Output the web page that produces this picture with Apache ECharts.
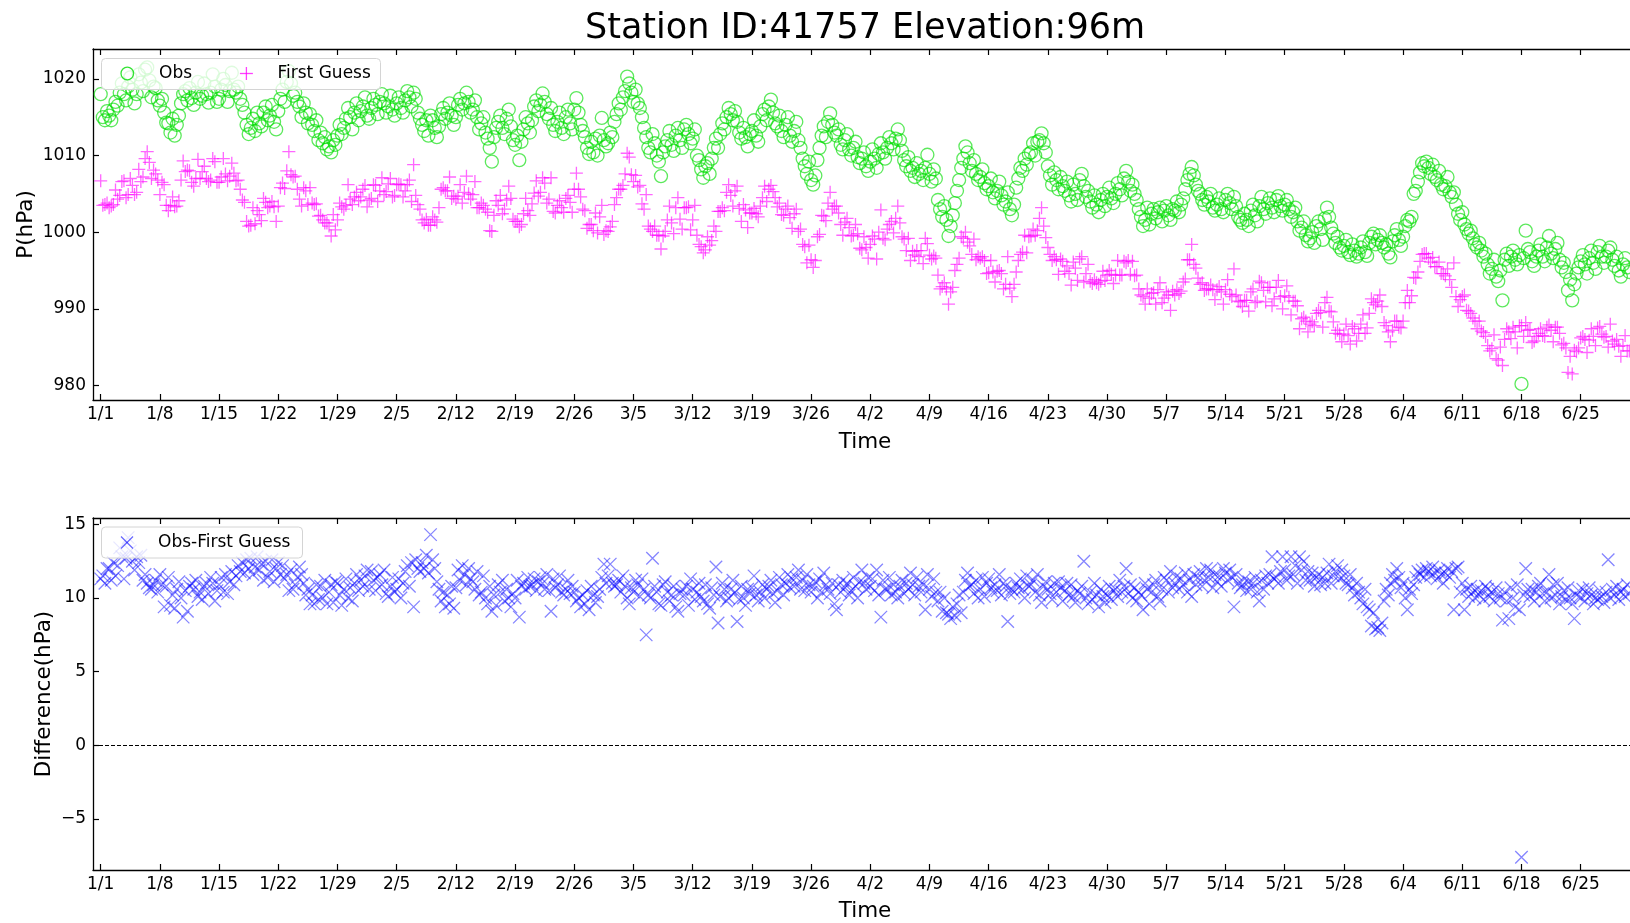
<!DOCTYPE html>
<html>
<head>
<meta charset="utf-8">
<title>Station 41757 surface pressure</title>
<script src="https://cdn.jsdelivr.net/npm/echarts@6/dist/echarts.min.js"></script>
<style>
  html, body { margin: 0; padding: 0; background: #fff; }
  #chart { width: 1630px; height: 923px; }
</style>
</head>
<body>
<div id="chart"></div>
<script>
// Station surface pressure: observations vs. model first guess, 6-hourly from 1/1.
const titleText = 'Station ID:41757 Elevation:96m';
const dateTicks = ['1/1','1/8','1/15','1/22','1/29','2/5','2/12','2/19','2/26','3/5','3/12','3/19','3/26',
  '4/2','4/9','4/16','4/23','4/30','5/7','5/14','5/21','5/28','6/4','6/11','6/18','6/25'];
const pressureTicks = [980, 990, 1000, 1010, 1020];
const diffTicks = [-5, 0, 5, 10, 15];
const stepHours = 6;

// Observed station pressure (hPa), four reports per day.
const obs = [
1018.0,1015.0,1014.6,1015.8, 1015.2,1014.6,1016.0,1017.0, 1016.5,1018.2,1019.4,1018.0, 1017.2,1019.0,1020.2,1018.6,
1016.8,1018.0,1020.6,1019.5, 1018.4,1021.2,1021.5,1019.8, 1017.6,1019.0,1018.8,1017.2, 1016.5,1017.4,1015.6,1014.3,
1014.2,1013.0,1014.8,1012.6, 1014.0,1015.2,1016.8,1018.0, 1018.4,1017.2,1018.8,1017.5, 1016.6,1018.2,1019.6,1017.4,
1017.8,1019.4,1018.0,1016.9, 1018.2,1020.6,1019.0,1017.0, 1017.4,1018.6,1020.0,1019.2, 1017.0,1018.4,1020.8,1018.6,
1018.2,1019.0,1017.4,1016.6, 1015.6,1014.0,1012.8,1013.6, 1014.8,1013.2,1015.6,1014.2, 1013.8,1015.6,1016.4,1014.6,
1015.2,1016.6,1014.4,1013.4, 1015.8,1017.4,1018.6,1017.0, 1019.6,1021.0,1019.4,1017.8, 1018.2,1017.0,1016.4,1015.0,
1016.8,1015.6,1014.2,1015.4, 1014.0,1013.2,1014.6,1012.0, 1013.0,1011.6,1012.4,1010.8, 1011.2,1010.4,1012.0,1011.4,
1012.6,1014.0,1012.8,1013.6, 1014.8,1016.2,1015.0,1013.4, 1015.6,1016.8,1014.6,1015.8, 1016.4,1017.6,1015.2,1014.8,
1016.2,1017.4,1016.6,1015.4, 1017.0,1018.0,1016.8,1015.6, 1016.4,1017.8,1016.0,1015.2, 1016.8,1017.6,1016.2,1015.6,
1017.2,1018.4,1017.6,1016.4, 1018.2,1017.4,1015.6,1014.8, 1014.0,1013.2,1014.6,1012.6, 1015.2,1014.6,1013.6,1012.4,
1013.8,1015.4,1016.2,1014.8, 1015.6,1016.8,1015.2,1014.0, 1015.0,1016.6,1017.4,1016.0, 1016.8,1018.2,1017.0,1015.6,
1016.0,1017.2,1015.0,1013.4, 1014.2,1015.0,1013.0,1012.2, 1011.0,1009.2,1012.4,1013.6, 1014.4,1015.2,1013.6,1012.8,
1014.8,1016.0,1013.8,1012.0, 1011.4,1012.6,1009.4,1011.8, 1013.4,1015.0,1014.2,1013.0, 1014.6,1016.4,1017.2,1015.8,
1016.6,1018.1,1017.0,1015.4, 1014.8,1016.2,1014.0,1013.2, 1014.4,1015.6,1013.6,1012.8, 1015.0,1016.0,1014.2,1013.4,
1016.0,1017.5,1015.6,1014.0, 1013.2,1012.4,1011.0,1010.2, 1011.8,1010.4,1012.2,1010.0, 1012.6,1014.9,1012.0,1011.2,
1011.6,1013.0,1012.4,1014.4, 1015.4,1016.8,1016.0,1017.6, 1018.4,1020.3,1019.4,1018.2, 1017.0,1018.6,1016.8,1016.2,
1015.0,1013.6,1012.4,1011.0, 1010.4,1012.8,1011.6,1010.0, 1009.2,1007.3,1010.4,1011.2, 1012.0,1013.2,1011.4,1010.6,
1012.6,1013.6,1012.0,1011.0, 1013.4,1014.0,1012.8,1011.6, 1012.2,1013.4,1010.0,1009.4, 1008.2,1007.1,1008.6,1009.0,
1007.6,1009.6,1011.0,1012.2, 1011.0,1012.8,1014.2,1013.4, 1015.0,1016.2,1015.4,1014.6, 1015.8,1014.4,1013.0,1012.2,
1013.6,1012.4,1011.2,1012.8, 1013.2,1014.6,1012.6,1011.8, 1013.8,1015.4,1016.0,1014.6, 1016.4,1017.3,1015.6,1014.2,
1013.8,1015.2,1013.2,1012.4, 1014.0,1015.0,1012.6,1011.8, 1013.2,1014.4,1012.0,1011.0, 1009.6,1008.6,1007.6,1009.2,
1006.8,1006.2,1007.4,1009.4, 1011.0,1012.6,1013.8,1012.4, 1014.4,1015.5,1014.0,1013.0, 1012.6,1013.4,1011.4,1010.8,
1012.0,1012.8,1010.8,1010.0, 1011.0,1011.8,1009.8,1009.0, 1009.6,1010.4,1008.6,1008.0, 1009.2,1010.8,1009.6,1008.4,
1010.2,1011.6,1010.4,1009.6, 1011.0,1012.4,1011.6,1010.8, 1012.2,1013.4,1012.0,1010.6, 1009.4,1008.6,1009.8,1008.0,
1008.4,1007.2,1009.0,1007.6, 1008.0,1006.8,1008.4,1010.1, 1007.6,1006.6,1008.2,1007.0, 1004.2,1003.0,1002.0,1003.4,
1001.6,999.5,1000.8,1002.2, 1003.8,1005.4,1006.8,1008.4, 1009.6,1011.2,1010.4,1009.0, 1008.0,1009.4,1007.6,1006.8,
1007.2,1008.2,1006.4,1005.6, 1006.0,1007.0,1005.2,1004.4, 1005.4,1006.6,1004.8,1003.6, 1004.0,1005.2,1003.0,1002.2,
1003.6,1005.8,1007.0,1008.4, 1008.0,1009.6,1008.8,1010.2, 1010.4,1011.6,1010.0,1011.8, 1012.0,1012.9,1011.6,1010.4,
1008.6,1007.4,1006.2,1007.8, 1006.8,1005.6,1007.2,1006.0, 1005.4,1006.6,1004.8,1004.0, 1006.2,1005.0,1004.2,1006.8,
1007.6,1006.0,1004.6,1005.4, 1004.0,1003.2,1004.8,1003.6, 1002.6,1004.2,1005.0,1003.4, 1004.6,1005.8,1004.4,1003.8,
1005.0,1006.4,1005.6,1004.8, 1007.0,1008.0,1006.6,1005.4, 1006.2,1005.0,1004.2,1003.0, 1002.0,1000.8,1001.6,1003.2,
1001.0,1002.4,1003.0,1001.8, 1002.6,1003.2,1001.4,1002.8, 1003.4,1002.2,1001.6,1003.0, 1002.8,1004.0,1002.6,1003.6,
1004.4,1005.6,1006.8,1007.6, 1008.5,1007.4,1006.2,1005.4, 1005.0,1004.2,1003.6,1004.6, 1004.0,1005.0,1003.2,1002.8,
1003.6,1004.4,1003.0,1002.6, 1004.2,1005.0,1003.8,1003.0, 1004.6,1003.4,1002.0,1001.6, 1001.2,1002.4,1001.6,1000.8,
1002.8,1003.6,1002.2,1001.4, 1003.4,1004.6,1003.0,1002.4, 1003.8,1004.4,1003.2,1002.6, 1004.2,1004.7,1003.4,1002.8,
1003.6,1004.2,1003.0,1002.0, 1002.6,1003.2,1001.4,1000.2, 1000.6,1001.4,999.6,998.8, 999.2,1000.0,998.6,1000.8,
1001.4,1000.4,999.0,1001.8, 1003.2,1002.0,1000.6,999.8, 998.6,999.4,998.0,997.6, 998.2,999.0,997.4,997.0,
998.4,997.6,996.8,997.2, 998.0,998.8,997.4,996.9, 998.6,999.4,999.8,998.4, 999.0,999.6,998.6,998.0,
998.4,997.2,996.7,998.8, 999.6,1000.4,999.0,998.2, 999.4,1000.8,1001.6,1001.4, 1002.0,1005.0,1005.4,1006.6,
1007.8,1009.0,1008.6,1009.2, 1008.4,1007.6,1008.8,1007.2, 1006.8,1008.0,1006.2,1005.6, 1006.0,1007.2,1005.2,1004.6,
1005.2,1003.6,1002.4,1001.6, 1002.6,1001.0,1000.4,999.8, 1000.2,999.2,998.4,998.0, 998.6,997.6,996.8,997.2,
995.8,994.6,995.2,996.4, 994.2,993.6,995.0,991.1, 996.4,997.2,995.6,996.8, 997.6,996.4,995.8,997.0,
980.2,996.6,1000.2,997.8, 997.4,996.2,995.6,996.8, 997.6,998.4,996.8,996.2, 998.0,999.5,997.2,996.6,
997.8,998.6,996.4,995.4, 996.0,994.8,992.4,993.8, 991.1,993.2,994.6,995.4, 996.2,997.0,995.8,994.6,
996.6,997.6,996.0,995.2, 997.4,998.2,996.8,996.0, 996.8,997.6,998.0,996.4, 995.6,996.8,995.0,994.2,
995.8,996.6,995.4,994.8
];

// Model first-guess pressure (hPa) at the same report times.
const firstGuess = [
1006.7,1003.5,1003.6,1003.8, 1003.2,1003.4,1003.6,1005.5, 1004.3,1004.8,1006.6,1006.7, 1004.5,1004.9,1007.0,1006.1,
1004.9,1005.2,1008.2,1006.6, 1007.2,1009.6,1010.5,1009.1, 1007.0,1008.1,1007.6,1006.8, 1004.9,1006.5,1006.2,1003.5,
1002.8,1003.5,1004.6,1003.3, 1003.4,1004.1,1006.8,1009.3, 1007.9,1008.1,1008.0,1006.5, 1006.0,1007.0,1009.5,1007.0,
1007.9,1008.6,1007.0,1006.6, 1006.8,1009.6,1009.2,1006.5, 1006.5,1007.2,1009.6,1007.6, 1006.7,1007.3,1009.0,1007.7,
1006.7,1006.8,1005.6,1004.2, 1003.9,1001.4,1000.8,1000.9, 1003.2,1001.1,1002.8,1002.3, 1001.5,1004.4,1003.9,1003.2,
1003.4,1004.0,1003.3,1001.4, 1003.4,1005.8,1006.4,1005.7, 1008.0,1010.5,1007.5,1007.2, 1007.3,1005.6,1004.3,1003.4,
1005.8,1005.4,1003.6,1005.8, 1003.8,1003.6,1003.7,1002.1, 1002.2,1001.6,1001.2,1001.2, 1000.8,999.5,1002.3,1000.3,
1001.6,1003.8,1003.3,1003.0, 1003.5,1006.2,1004.3,1003.6, 1004.6,1005.2,1004.1,1004.6, 1005.6,1006.1,1003.3,1004.2,
1004.4,1006.2,1006.1,1004.0, 1005.4,1007.1,1004.9,1005.3, 1006.3,1007.0,1004.6,1004.8, 1006.2,1006.3,1006.2,1004.6,
1005.4,1006.2,1006.8,1004.0, 1008.8,1004.8,1003.6,1003.0, 1001.6,1001.2,1001.7,1000.9, 1000.9,1002.0,1001.6,1001.3,
1003.2,1005.6,1005.8,1005.4, 1005.4,1007.2,1004.4,1004.7, 1004.3,1004.7,1006.2,1003.8, 1005.2,1007.3,1005.0,1004.3,
1004.9,1006.6,1003.2,1003.2, 1003.8,1003.5,1003.0,1002.6, 1000.2,1000.1,1002.2,1004.1, 1003.5,1004.8,1002.4,1003.0,
1004.2,1006.0,1004.4,1001.7, 1001.4,1001.4,1000.7,1001.0, 1002.4,1004.4,1002.8,1002.2, 1003.7,1005.1,1006.7,1004.7,
1005.2,1007.1,1006.4,1003.8, 1004.3,1007.1,1002.7,1002.5, 1003.5,1004.1,1003.2,1002.6, 1004.4,1004.8,1003.9,1002.6,
1005.6,1007.7,1005.6,1004.6, 1003.0,1002.8,1000.5,1001.0, 1001.0,1000.2,1002.5,999.9, 1002.0,1003.5,999.7,1000.2,
1000.1,1000.7,1001.4,1003.6, 1004.5,1005.6,1005.6,1006.1, 1007.6,1010.3,1009.8,1007.5, 1006.6,1007.4,1005.9,1006.1,
1003.7,1003.0,1004.9,1000.8, 1000.4,1000.1,1000.8,999.6, 999.6,997.8,999.5,1000.1, 1001.6,1003.4,1001.2,999.8,
1003.2,1004.5,1001.7,1000.4, 1003.2,1003.2,1003.3,1000.3, 1001.6,1003.5,999.6,998.4, 998.1,997.3,997.7,999.4,
998.3,998.9,1000.8,1000.1, 1002.7,1002.7,1003.2,1002.8, 1005.2,1006.2,1004.8,1003.4, 1005.4,1006.0,1003.1,1001.4,
1003.6,1002.9,1000.6,1002.5, 1002.5,1003.1,1002.4,1002.0, 1003.4,1004.5,1006.0,1004.0, 1005.6,1006.1,1005.3,1004.5,
1003.3,1003.8,1002.3,1002.2, 1003.0,1003.4,1001.9,1000.5, 1002.4,1003.0,1000.1,1000.4, 998.4,998.1,996.0,998.3,
996.4,995.4,996.3,999.4, 999.7,1002.2,1002.1,1001.5, 1003.8,1005.2,1003.0,1003.4, 1003.4,1002.5,1001.0,999.6,
1001.3,1001.8,1000.6,999.5, 999.6,1001.0,999.8,997.9, 997.7,999.4,998.0,996.6, 998.4,999.5,999.1,996.5,
1000.0,1002.9,999.2,999.0, 1000.4,1001.0,1001.4,999.9, 1001.8,1003.4,1001.2,999.4, 999.1,997.6,999.2,996.3,
997.5,997.0,997.6,996.8, 997.6,995.9,999.2,998.5, 997.0,996.5,996.9,996.6, 994.4,992.6,992.9,993.4,
992.6,990.6,992.2,992.8, 995.0,995.8,996.6,999.4, 999.2,1000.0,998.7,998.2, 997.1,999.1,996.4,996.8,
996.6,996.8,996.3,994.6, 994.7,996.3,994.8,993.5, 994.9,995.0,994.6,992.6, 993.2,996.8,992.7,991.6,
993.2,994.8,996.3,997.1, 997.4,999.6,997.3,999.4, 999.5,1000.4,999.6,1000.2, 1001.8,1003.2,1000.8,999.3,
998.0,997.1,996.3,996.8, 996.4,994.5,996.5,996.2, 994.9,995.6,994.6,993.1, 996.1,995.3,993.7,996.5,
996.8,993.5,994.6,995.8, 993.6,993.3,993.8,993.4, 993.2,993.6,994.9,993.7, 994.4,995.0,994.5,993.3,
994.4,996.3,994.4,994.4, 996.2,996.0,996.3,994.5, 996.2,994.3,994.4,992.6, 991.8,991.6,990.6,992.6,
991.4,992.0,992.1,990.6, 992.5,993.4,990.8,991.4, 992.2,991.8,989.8,992.3, 991.8,992.5,992.0,992.3,
993.5,993.9,996.4,996.4, 998.4,995.8,995.3,994.0, 993.2,993.4,992.4,992.6, 992.6,993.1,992.5,991.2,
992.5,992.9,992.2,990.6, 992.5,993.8,991.9,991.6, 995.2,991.8,991.0,990.9, 990.3,991.1,991.1,989.7,
992.2,992.6,990.8,991.0, 993.6,993.4,992.4,990.9, 992.8,992.8,990.4,991.3, 992.8,993.7,991.6,990.0,
991.7,993.0,991.5,989.2, 991.0,991.0,990.4,987.4, 988.7,988.9,988.4,987.0, 988.0,988.3,987.8,989.4,
989.8,989.5,987.6,990.8, 991.5,989.7,989.6,988.3, 986.8,987.2,986.7,985.7, 986.7,988.0,986.5,985.4,
987.7,987.4,985.8,986.8, 988.0,989.2,986.8,987.5, 989.4,991.3,990.8,990.5, 991.0,991.8,990.3,988.2,
987.8,987.0,985.7,987.2, 988.4,988.4,987.6,987.5, 988.4,990.8,992.4,990.8, 991.7,994.1,994.0,994.8,
996.2,997.1,997.2,997.2, 996.6,996.1,996.7,995.5, 995.5,996.1,994.6,994.6, 994.3,995.2,993.8,992.8,
996.0,991.6,990.3,991.2, 991.6,991.8,989.8,989.7, 989.4,988.8,988.4,987.4, 988.4,987.1,986.9,986.4,
985.2,984.5,984.8,986.6, 983.5,983.3,985.0,982.6, 986.0,987.4,987.0,986.1, 987.6,987.0,984.9,987.8,
987.8,986.4,988.2,987.2, 987.3,985.6,985.8,986.4, 986.8,987.4,986.5,986.4, 987.6,987.9,987.2,985.7,
987.6,987.6,986.8,985.3, 985.5,984.9,981.7,983.8, 981.5,984.6,984.4,984.9, 986.2,986.4,986.0,984.3,
985.9,987.4,986.4,985.2, 987.5,987.7,986.7,986.3, 986.4,985.0,988.0,985.8, 985.4,986.0,985.1,983.8,
985.2,986.5,984.5,984.5
];

// Report time in days since 1/1 00:00.
const dayOf = i => i * stepHours / 24;
const obsData = obs.map((v, i) => [dayOf(i), v]);
const fgData = firstGuess.map((v, i) => [dayOf(i), v]);
const diffData = obs.map((v, i) => [dayOf(i), Math.round((v - firstGuess[i]) * 100) / 100]);

const FONT = 'DejaVu Sans';
const X_MIN = -0.91, X_MAX = 181.54;
const tickDays = dateTicks.map((_, k) => k * 7);
const PLUS = 'path://M0,-1L0,1M-1,0L1,0';
const CROSS = 'path://M-1,-1L1,1M-1,1L1,-1';

const spine = { show: true, onZero: false, lineStyle: { color: '#000', width: 1.3 } };
const tickStyle = { color: '#000', width: 1.2 };

function xAxes(gridIndex) {
  return [
    {
      type: 'value', gridIndex, position: 'bottom', min: X_MIN, max: X_MAX,
      axisLine: spine,
      axisTick: { show: true, inside: true, length: 6, customValues: tickDays, lineStyle: tickStyle },
      axisLabel: { show: true, customValues: tickDays, margin: 6, color: '#000', fontSize: 17, fontFamily: FONT,
        formatter: v => dateTicks[Math.round(v / 7)] },
      splitLine: { show: false }
    },
    {
      type: 'value', gridIndex, position: 'top', min: X_MIN, max: X_MAX,
      axisLine: spine,
      axisTick: { show: true, inside: true, length: 6, customValues: tickDays, lineStyle: tickStyle },
      axisLabel: { show: false },
      splitLine: { show: false }
    }
  ];
}

function yAxes(gridIndex, min, max, ticks, fmt) {
  return [
    {
      type: 'value', gridIndex, position: 'left', min, max,
      axisLine: spine,
      axisTick: { show: true, inside: true, length: 6, customValues: ticks, lineStyle: tickStyle },
      axisLabel: { show: true, customValues: ticks, margin: 7, color: '#000', fontSize: 17, fontFamily: FONT, formatter: fmt },
      splitLine: { show: false }
    },
    {
      type: 'value', gridIndex, position: 'right', min, max,
      axisLine: spine,
      axisTick: { show: true, inside: true, length: 6, customValues: ticks, lineStyle: tickStyle },
      axisLabel: { show: false },
      splitLine: { show: false }
    }
  ];
}

const minusFmt = v => (v < 0 ? '\u2212' + Math.abs(v) : String(v));

function legendText(x, y, text) {
  return { type: 'text', x, y, z: 101, silent: true,
    style: { text, fill: '#000', font: '17px "' + FONT + '"', textAlign: 'left', textVerticalAlign: 'middle' } };
}
function seg(x1, y1, x2, y2, stroke) {
  return { type: 'line', z: 101, silent: true, shape: { x1, y1, x2, y2 }, style: { stroke, lineWidth: 1.3 } };
}

const OBS_COLOR = 'rgba(0,220,0,0.8)';
const FG_COLOR = 'rgba(255,0,255,0.75)';
const DIFF_COLOR = 'rgba(0,0,255,0.6)';

const option = {
  animation: false,
  backgroundColor: '#fff',
  grid: [
    { left: 93, top: 49, width: 1543, height: 351, outerBoundsMode: 'none', containLabel: false },
    { left: 93, top: 518, width: 1543, height: 352, outerBoundsMode: 'none', containLabel: false }
  ],
  xAxis: [...xAxes(0), ...xAxes(1)],
  yAxis: [
    ...yAxes(0, 978.1, 1023.9, pressureTicks, v => String(v)),
    ...yAxes(1, -8.46, 15.43, diffTicks, minusFmt)
  ],
  series: [
    {
      name: 'Obs', type: 'scatter', xAxisIndex: 0, yAxisIndex: 0, data: obsData, silent: true,
      symbol: 'circle', symbolSize: 13,
      itemStyle: { color: 'rgba(0,0,0,0)', borderColor: OBS_COLOR, borderWidth: 1.3 }
    },
    {
      name: 'First Guess', type: 'scatter', xAxisIndex: 0, yAxisIndex: 0, data: fgData, silent: true,
      symbol: PLUS, symbolSize: 13,
      itemStyle: { color: 'none', borderColor: FG_COLOR, borderWidth: 1.3 }
    },
    {
      name: 'Obs-First Guess', type: 'scatter', xAxisIndex: 2, yAxisIndex: 2, data: diffData, silent: true,
      symbol: CROSS, symbolSize: 12.5,
      itemStyle: { color: 'none', borderColor: DIFF_COLOR, borderWidth: 1.3 },
      markLine: {
        silent: true, symbol: ['none', 'none'], label: { show: false },
        lineStyle: { color: '#000', width: 1, type: [4, 2] },
        data: [{ yAxis: 0 }]
      }
    }
  ],
  graphic: [
    { type: 'text', x: 865, y: 29, silent: true,
      style: { text: titleText, fill: '#000', font: '35px "' + FONT + '"', textAlign: 'center', textVerticalAlign: 'middle' } },
    { type: 'text', x: 865, y: 442, silent: true,
      style: { text: 'Time', fill: '#000', font: '21.5px "' + FONT + '"', textAlign: 'center', textVerticalAlign: 'middle' } },
    { type: 'text', x: 865, y: 911, silent: true,
      style: { text: 'Time', fill: '#000', font: '21.5px "' + FONT + '"', textAlign: 'center', textVerticalAlign: 'middle' } },
    { type: 'text', x: 26, y: 224.5, rotation: Math.PI / 2, silent: true,
      style: { text: 'P(hPa)', fill: '#000', font: '21.5px "' + FONT + '"', textAlign: 'center', textVerticalAlign: 'middle' } },
    { type: 'text', x: 44, y: 694, rotation: Math.PI / 2, silent: true,
      style: { text: 'Difference(hPa)', fill: '#000', font: '21.5px "' + FONT + '"', textAlign: 'center', textVerticalAlign: 'middle' } },

    // legend of the pressure panel
    { type: 'rect', z: 100, silent: true, shape: { x: 101.5, y: 58.5, width: 279, height: 31, r: 4 },
      style: { fill: 'rgba(255,255,255,0.8)', stroke: '#d4d4d4', lineWidth: 1 } },
    { type: 'circle', z: 101, silent: true, shape: { cx: 127.3, cy: 73.5, r: 6.3 },
      style: { fill: 'none', stroke: OBS_COLOR, lineWidth: 1.3 } },
    legendText(159, 73.5, 'Obs'),
    seg(239.9, 73.5, 252.9, 73.5, FG_COLOR),
    seg(246.4, 67, 246.4, 80, FG_COLOR),
    legendText(277.5, 73.5, 'First Guess'),

    // legend of the difference panel
    { type: 'rect', z: 100, silent: true, shape: { x: 101.5, y: 527, width: 201, height: 31, r: 4 },
      style: { fill: 'rgba(255,255,255,0.8)', stroke: '#d4d4d4', lineWidth: 1 } },
    seg(121, 536.5, 133, 548.5, DIFF_COLOR),
    seg(121, 548.5, 133, 536.5, DIFF_COLOR),
    legendText(158, 542.5, 'Obs-First Guess')
  ]
};

const chart = echarts.init(document.getElementById('chart'), null, { renderer: 'canvas' });
chart.setOption(option);
</script>
</body>
</html>
